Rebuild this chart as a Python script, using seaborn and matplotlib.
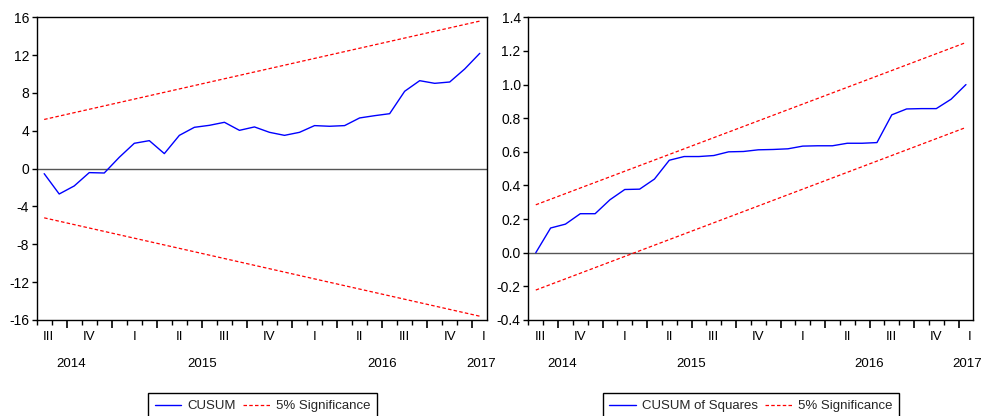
import numpy as np
import pandas as pd
import matplotlib
matplotlib.use("Agg")
import matplotlib.pyplot as plt
import matplotlib.transforms as mtransforms
from matplotlib.lines import Line2D
import seaborn as sns

# ---------------- data ----------------
months = pd.period_range("2014-08", "2017-01", freq="M")  # 30 monthly observations

cusum = [-0.53, -2.68, -1.83, -0.42, -0.46, 1.20, 2.68, 2.96, 1.59, 3.52,
         4.37, 4.58, 4.90, 4.05, 4.41, 3.84, 3.52, 3.84, 4.55, 4.48,
         4.55, 5.36, 5.60, 5.81, 8.18, 9.30, 9.02, 9.16, 10.54, 12.19]
cusum_upper = [5.2, 15.6]     # first / last observation
cusum_lower = [-5.2, -15.6]

cusumsq = [0.0, 0.147, 0.17, 0.232, 0.232, 0.315, 0.376, 0.378, 0.438, 0.55,
           0.572, 0.572, 0.578, 0.600, 0.602, 0.612, 0.614, 0.618, 0.634, 0.636,
           0.636, 0.651, 0.651, 0.655, 0.820, 0.855, 0.857, 0.857, 0.913, 1.0]
cusumsq_upper = [0.285, 1.25]
cusumsq_lower = [-0.222, 0.745]

cusum_yticks = [-16, -12, -8, -4, 0, 4, 8, 12, 16]
cusumsq_yticks = [-0.4, -0.2, 0.0, 0.2, 0.4, 0.6, 0.8, 1.0, 1.2, 1.4]
roman = {1: "I", 2: "II", 3: "III", 4: "IV"}

# ---------------- style ----------------
sns.set_theme(style="white")
plt.rcParams["font.family"] = ["Liberation Sans", "DejaVu Sans"]
plt.rcParams["axes.unicode_minus"] = False

idx = np.arange(len(months))
ends = [idx[0], idx[-1]]

fig = plt.figure(figsize=(9.83, 4.16), dpi=100)
ax1 = fig.add_axes([0.0373, 0.2308, 0.4584, 0.7276])
ax2 = fig.add_axes([0.5375, 0.2308, 0.4527, 0.7276])

dash = (0, (2.8, 1.8))
FS = 9.5


def draw(ax, series, up, lo, yticks, fmt, ylim, label, legx):
    df = pd.DataFrame({"t": idx, "v": series})
    ax.axhline(0, color="#555555", lw=1.0, zorder=1)
    sns.lineplot(data=df, x="t", y="v", ax=ax, color="blue", lw=1.0, zorder=3)
    sns.lineplot(x=ends, y=up, ax=ax, color="red", lw=0.9, linestyle=dash, zorder=2)
    sns.lineplot(x=ends, y=lo, ax=ax, color="red", lw=0.9, linestyle=dash, zorder=2)
    ax.set_xlim(-0.5, len(months) - 0.5)
    ax.set_ylim(*ylim)
    ax.set_yticks(yticks)
    ax.set_yticklabels([fmt.format(v) for v in yticks], fontsize=10, color="black")
    ax.set_xlabel("")
    ax.set_ylabel("")
    for s in ax.spines.values():
        s.set_color("black")
        s.set_linewidth(1.0)
        s.set_visible(True)
    # ticks at month boundaries
    q_starts = [i - 0.5 for i, m in enumerate(months) if m.month in (1, 4, 7, 10)]
    ax.set_xticks(q_starts)
    ax.set_xticklabels([""] * len(q_starts))
    ax.set_xticks([i - 0.5 for i in range(len(months))], minor=True)
    ax.tick_params(axis="x", which="major", direction="out", length=6, width=1.2,
                   color="black", bottom=True, top=False)
    ax.tick_params(axis="x", which="minor", direction="out", length=3.5, width=1.0,
                   color="black", bottom=True, top=False)
    ax.tick_params(axis="y", which="major", direction="out", length=3.5, width=1.0,
                   color="black", left=True, right=False, pad=2)
    trans = mtransforms.blended_transform_factory(ax.transData, ax.transAxes)
    # quarter labels
    quarters = pd.Series(idx, index=[(m.year, m.quarter) for m in months])
    qgroups = quarters.groupby(level=0, sort=False).mean()
    qkeys = list(qgroups.index)
    for k, (key, pos) in enumerate(qgroups.items()):
        if k == 0:
            pos = 0.3
        elif k == len(qkeys) - 1:
            pos = idx[-1] + 0.25
        ax.text(pos, -0.056, roman[key[1]], transform=trans, ha="center",
                va="center", fontsize=FS, color="black")
    years = pd.Series(idx, index=[m.year for m in months]).groupby(level=0).mean()
    ylist = list(years.items())
    for k, (yr, pos) in enumerate(ylist):
        if k == 0:
            pos = 1.77
        elif k == len(ylist) - 1:
            pos = idx[-1] + 0.1
        ax.text(pos, -0.146, str(yr), transform=trans, ha="center", va="center",
                fontsize=FS, color="black")
    handles = [Line2D([], [], color="blue", lw=1.0),
               Line2D([], [], color="red", lw=0.9, linestyle=dash)]
    ax.legend(handles, [label, "5% Significance"], loc="upper center",
              bbox_to_anchor=(legx, 0.0546), bbox_transform=fig.transFigure,
              ncol=2, frameon=True, fancybox=False, edgecolor="black",
              framealpha=1, fontsize=FS, handlelength=2.0, handletextpad=0.45,
              columnspacing=0.6, borderpad=0.5, borderaxespad=0)
    ax.get_legend().get_frame().set_linewidth(1.0)


draw(ax1, cusum, cusum_upper, cusum_lower, cusum_yticks, "{:.0f}", (-16, 16),
     "CUSUM", 0.2669)
draw(ax2, cusumsq, cusumsq_upper, cusumsq_lower, cusumsq_yticks, "{:.1f}",
     (-0.4, 1.4), "CUSUM of Squares", 0.7637)

fig.savefig("out.png", dpi=100)
